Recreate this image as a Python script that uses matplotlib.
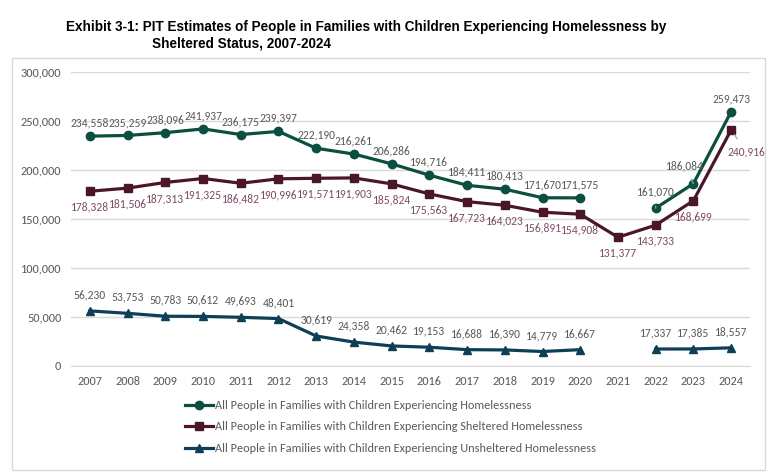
import numpy as np
import matplotlib
matplotlib.use("Agg")
import matplotlib.pyplot as plt
from matplotlib.patches import Rectangle
from matplotlib.ticker import FuncFormatter

years = list(range(2007, 2025))
total = [234558, 235259, 238096, 241937, 236175, 239397, 222190, 216261, 206286,
         194716, 184411, 180413, 171670, 171575, np.nan, 161070, 186084, 259473]
sheltered = [178328, 181506, 187313, 191325, 186482, 190996, 191571, 191903, 185824,
             175563, 167723, 164023, 156891, 154908, 131377, 143733, 168699, 240916]
unsheltered = [56230, 53753, 50783, 50612, 49693, 48401, 30619, 24358, 20462,
               19153, 16688, 16390, 14779, 16667, np.nan, 17337, 17385, 18557]
legend_labels = ["All People in Families with Children Experiencing Homelessness",
                 "All People in Families with Children Experiencing Sheltered Homelessness",
                 "All People in Families with Children Experiencing Unsheltered Homelessness"]

c_total = "#0b4f40"
c_shel = "#4a1628"
c_unshel = "#0f3e57"
c_gray = "#595959"
c_mauve = "#7d4c68"
lab_font = ["Carlito", "DejaVu Sans"]

fig = plt.figure(figsize=(7.8, 4.72), dpi=100)
fig.patches.append(Rectangle((12 / 780, 1 - 470 / 472), 753 / 780, 412 / 472,
                             transform=fig.transFigure, fill=False,
                             edgecolor="#d9d9d9", linewidth=1))

title_font = ["Liberation Sans", "DejaVu Sans"]
fig.text(66 / 780, 1 - 27 / 472,
         "Exhibit 3-1: PIT Estimates of People in Families with Children Experiencing Homelessness by",
         fontsize=9.75, fontweight="bold", family=title_font, va="center", ha="left")
fig.text(152 / 780, 1 - 43 / 472, "Sheltered Status, 2007-2024",
         fontsize=9.75, fontweight="bold", family=title_font, va="center", ha="left")

ax = fig.add_axes([71 / 780, 1 - 366 / 472, 679 / 780, 294 / 472])
ax.set_xlim(2006.5, 2024.5)
ax.set_ylim(0, 300000)
ax.set_yticks(range(0, 300001, 50000))
ax.set_xticks(years)
ax.yaxis.set_major_formatter(FuncFormatter(lambda v, p: f"{int(v):,}"))
ax.grid(axis="y", color="#d9d9d9", linewidth=1)
ax.set_axisbelow(True)
for s in ax.spines.values():
    s.set_visible(False)
ax.spines["bottom"].set_visible(True)
ax.spines["bottom"].set_color("#d9d9d9")
ax.tick_params(length=0, colors=c_gray, labelsize=8.8)
ax.tick_params(axis="y", pad=7)
ax.tick_params(axis="x", pad=7)
for t in ax.get_xticklabels() + ax.get_yticklabels():
    t.set_family(lab_font)

ax.plot(years, total, color=c_total, lw=2.3, marker="o", ms=6, label=legend_labels[0])
ax.plot(years, sheltered, color=c_shel, lw=2.3, marker="s", ms=6, label=legend_labels[1])
ax.plot(years, unsheltered, color=c_unshel, lw=2.3, marker="^", ms=6, label=legend_labels[2])


def put_labels(values, dy, color, special=None):
    special = special or {}
    for yr, v in zip(years, values):
        if np.isnan(v):
            continue
        dx, d = special.get(yr, (0, dy))
        arrow = None
        if yr in special:
            arrow = dict(arrowstyle="-", color="#a6a6a6", lw=0.8, shrinkA=4, shrinkB=4)
        ax.annotate(f"{int(v):,}", (yr, v), xytext=(dx, d), textcoords="offset pixels",
                    ha="center", va="center", fontsize=8.3, color=color,
                    family=lab_font, arrowprops=arrow)


put_labels(total, 13, c_gray, {2022: (0, 16), 2023: (-9, 18)})
put_labels(sheltered, -16, c_mauve, {2024: (15, -22)})
put_labels(unsheltered, 16, c_gray)

leg = ax.legend(loc="upper left", bbox_to_anchor=(185 / 780, 1 - 400 / 472),
                bbox_transform=fig.transFigure, frameon=False, fontsize=8.8,
                handlelength=2.3, handletextpad=0.15, labelspacing=0.85,
                borderpad=0, borderaxespad=0)
for t in leg.get_texts():
    t.set_color(c_gray)
    t.set_family(lab_font)

fig.savefig("out.png", dpi=100)
